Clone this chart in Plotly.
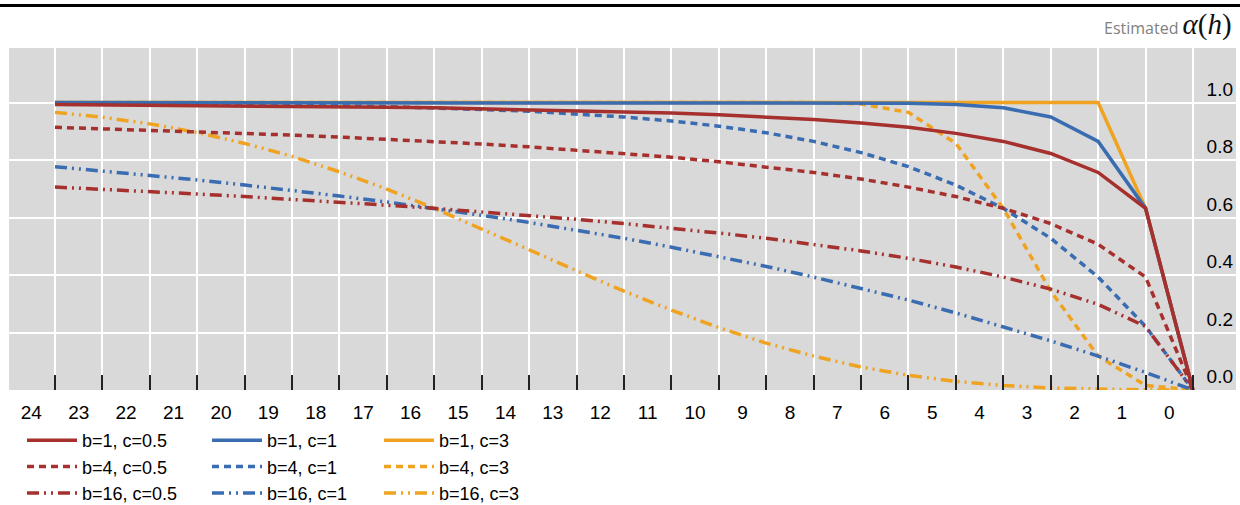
import plotly.graph_objects as go

hours = [24, 23, 22, 21, 20, 19, 18, 17, 16, 15, 14, 13, 12, 11, 10, 9, 8, 7, 6, 5, 4, 3, 2, 1, 0]
tick_labels = ["24", "23", "22", "21", "20", "19", "18", "17", "16", "15", "14", "13", "12",
               "11", "10", "9", "8", "7", "6", "5", "4", "3", "2", "1", "0"]

b1_c05 = [0.993, 0.992, 0.991, 0.990, 0.989, 0.987, 0.986, 0.984, 0.982, 0.979, 0.976, 0.973, 0.969,
          0.964, 0.958, 0.950, 0.941, 0.929, 0.914, 0.893, 0.865, 0.823, 0.757, 0.632, 0.0]
b1_c1 = [1.000, 1.000, 1.000, 1.000, 1.000, 1.000, 1.000, 1.000, 1.000, 1.000, 1.000, 1.000, 1.000,
         1.000, 1.000, 1.000, 1.000, 0.999, 0.998, 0.993, 0.982, 0.950, 0.865, 0.632, 0.0]
b1_c3 = [1.000, 1.000, 1.000, 1.000, 1.000, 1.000, 1.000, 1.000, 1.000, 1.000, 1.000, 1.000, 1.000,
         1.000, 1.000, 1.000, 1.000, 1.000, 1.000, 1.000, 1.000, 1.000, 1.000, 0.632, 0.0]
b4_c05 = [0.914, 0.909, 0.904, 0.899, 0.893, 0.887, 0.880, 0.873, 0.865, 0.856, 0.846, 0.835, 0.823,
          0.810, 0.794, 0.777, 0.757, 0.734, 0.706, 0.673, 0.632, 0.579, 0.507, 0.393, 0.0]
b4_c1 = [0.998, 0.997, 0.996, 0.995, 0.993, 0.991, 0.989, 0.986, 0.982, 0.976, 0.970, 0.961, 0.950,
         0.936, 0.918, 0.895, 0.865, 0.826, 0.777, 0.713, 0.632, 0.528, 0.393, 0.221, 0.0]
b4_c3 = [1.000, 1.000, 1.000, 1.000, 1.000, 1.000, 1.000, 1.000, 1.000, 1.000, 1.000, 1.000, 1.000,
         1.000, 1.000, 1.000, 1.000, 0.995, 0.966, 0.858, 0.632, 0.344, 0.118, 0.016, 0.0]
b16_c05 = [0.706, 0.699, 0.690, 0.682, 0.673, 0.664, 0.654, 0.643, 0.632, 0.620, 0.608, 0.594, 0.579,
           0.564, 0.546, 0.528, 0.507, 0.484, 0.458, 0.428, 0.393, 0.351, 0.298, 0.221, 0.0]
b16_c1 = [0.777, 0.762, 0.747, 0.731, 0.713, 0.695, 0.675, 0.654, 0.632, 0.608, 0.583, 0.556, 0.528,
          0.497, 0.465, 0.430, 0.393, 0.354, 0.313, 0.268, 0.221, 0.171, 0.118, 0.061, 0.0]
b16_c3 = [0.966, 0.949, 0.926, 0.896, 0.858, 0.813, 0.759, 0.699, 0.632, 0.561, 0.488, 0.415, 0.344,
          0.278, 0.217, 0.163, 0.118, 0.080, 0.051, 0.030, 0.016, 0.007, 0.002, 0.000, 0.0]

y_ticks = [0.0, 0.2, 0.4, 0.6, 0.8, 1.0]
y_tick_text = ["0.0", "0.2", "0.4", "0.6", "0.8", "1.0"]

RED = "#A5302D"
BLUE = "#3A6CB1"
ORANGE = "#EFA320"
DASH4 = "7px,5px"
DASH16 = "12px,5px,2px,5px,2px,5px"
LW = 3.5

series = [
    # (name, values, color, dash, legend)
    ("b=1, c=3", b1_c3, ORANGE, "solid", "legend3"),
    ("b=4, c=3", b4_c3, ORANGE, DASH4, "legend3"),
    ("b=16, c=3", b16_c3, ORANGE, DASH16, "legend3"),
    ("b=1, c=1", b1_c1, BLUE, "solid", "legend2"),
    ("b=4, c=1", b4_c1, BLUE, DASH4, "legend2"),
    ("b=16, c=1", b16_c1, BLUE, DASH16, "legend2"),
    ("b=1, c=0.5", b1_c05, RED, "solid", "legend"),
    ("b=4, c=0.5", b4_c05, RED, DASH4, "legend"),
    ("b=16, c=0.5", b16_c05, RED, DASH16, "legend"),
]

fig = go.Figure()
for name, vals, color, dash, leg in series:
    fig.add_trace(go.Scatter(
        x=hours, y=vals, mode="lines", name=name, legend=leg,
        line=dict(color=color, width=LW, dash=dash),
    ))

W, H = 1240, 505
ML, MR, MT, MB = 9, 4, 48, 115
pw = W - ML - MR
ph = H - MT - MB

legend_font = dict(family="Liberation Sans, Arial, sans-serif", size=18, color="#000000")
def leg(xpx):
    return dict(
        xref="container", yref="container",
        x=xpx / W, y=1 - 422 / H, xanchor="left", yanchor="top",
        orientation="v", font=legend_font, bgcolor="rgba(0,0,0,0)",
        borderwidth=0, tracegroupgap=0, itemwidth=50, traceorder="normal",
    )

fig.update_layout(
    width=W, height=H,
    margin=dict(l=ML, r=MR, t=MT, b=MB, autoexpand=False),
    paper_bgcolor="#FFFFFF",
    plot_bgcolor="#D9D9D9",
    showlegend=True,
    legend=leg(22),
    legend2=leg(207),
    legend3=leg(379),
    xaxis=dict(
        range=[24.97, -0.907],
        tickmode="array",
        tickvals=[h + 0.5 for h in hours],
        ticktext=tick_labels,
        ticks="",
        ticklabelstandoff=9,
        showgrid=False,
        zeroline=False,
        showline=False,
        automargin=False,
        tickfont=dict(family="Liberation Sans, Arial, sans-serif", size=19, color="#000000"),
        minor=dict(
            tickmode="array",
            tickvals=hours,
            ticks="inside",
            ticklen=15,
            tickwidth=1.5,
            tickcolor="#222222",
            showgrid=True,
            gridcolor="#FFFFFF",
            gridwidth=1.6,
        ),
    ),
    yaxis=dict(
        range=[0, 1.19],
        side="right",
        tickmode="array",
        tickvals=y_ticks,
        ticktext=y_tick_text,
        ticklabelposition="inside top",
        ticks="",
        showgrid=True,
        gridcolor="#FFFFFF",
        gridwidth=1.6,
        zeroline=False,
        showline=False,
        automargin=False,
        tickfont=dict(family="Liberation Sans, Arial, sans-serif", size=19, color="#000000"),
    ),
    shapes=[
        dict(type="line", xref="paper", yref="paper",
             x0=-ML / pw, x1=1 + MR / pw,
             y0=1 + (MT - 5.5) / ph, y1=1 + (MT - 5.5) / ph,
             line=dict(color="#000000", width=3)),
    ],
    annotations=[
        dict(
            xref="paper", yref="paper",
            x=1 + (1234 - (W - MR)) / pw, y=1 + (MT - 24) / ph,
            xanchor="right", yanchor="middle", showarrow=False,
            text=("Estimated "
                  "<span style='font-family:Liberation Serif, DejaVu Serif, serif;font-size:29px;color:#111111'>"
                  "<i>α</i>(<i>h</i>)</span>"),
            font=dict(family="Open Sans, Noto Sans, sans-serif", size=16, color="#7F7F7F"),
        )
    ],
)

fig.write_html("out.html", config={"displayModeBar": False},
               post_script="document.body.style.margin='0';")
